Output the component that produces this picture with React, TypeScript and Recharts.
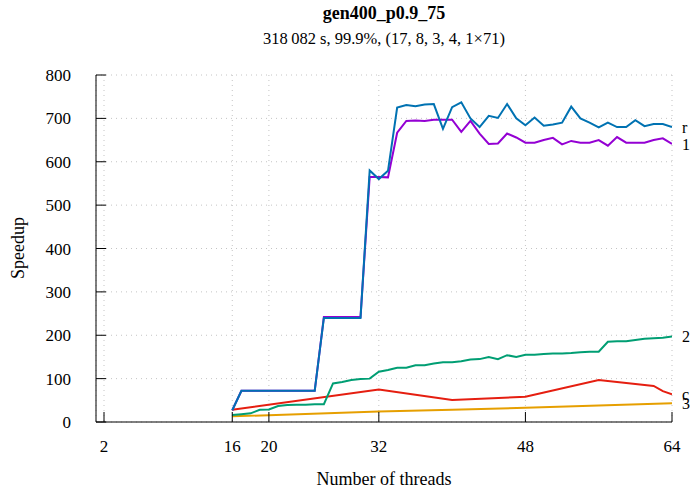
import React from 'react';
import { LineChart, Line, XAxis, YAxis, CartesianGrid } from 'recharts';

// thread counts measured for the dense series
const threads = [
  16, 17, 18, 19, 20, 21, 22, 23, 24, 25, 26, 27, 28, 29, 30, 31, 32,
  33, 34, 35, 36, 37, 38, 39, 40, 41, 42, 43, 44, 45, 46, 47, 48,
  49, 50, 51, 52, 53, 54, 55, 56, 57, 58, 59, 60, 61, 62, 63, 64,
];

const speedupR = [
  27, 72, 72, 72, 72, 72, 72, 72, 72, 72, 240, 240, 240, 240, 240, 580, 560,
  579, 725, 731, 728, 732, 733, 676, 726, 737, 700, 680, 706, 701, 733, 700, 684,
  702, 683, 686, 690, 727, 700, 690, 679, 690, 680, 680, 696, 682, 687, 687, 680,
];

const speedup1 = [
  27, 72, 72, 72, 72, 72, 72, 72, 72, 72, 242, 242, 242, 242, 242, 565, 565,
  564, 667, 694, 695, 694, 697, 697, 697, 669, 694, 665, 641, 642, 665, 656, 644,
  644, 650, 655, 640, 648, 644, 644, 650, 637, 657, 644, 644, 644, 650, 654, 641,
];

const speedup2 = [
  16, 18, 20, 28, 29, 37, 39, 40, 40, 41, 41, 89, 92, 97, 99, 100, 116,
  120, 125, 125, 131, 131, 135, 138, 138, 140, 144, 145, 150, 145, 154, 150, 155,
  155, 157, 158, 158, 159, 161, 162, 162, 185, 186, 186, 189, 192, 193, 194, 197,
];

const threadsC = [16, 32, 40, 48, 56, 62, 63, 64];
const speedupC = [28, 75, 51, 58, 97, 83, 71, 64];

const threads3 = [16, 32, 40, 48, 56, 64];
const speedup3 = [13, 24, 28, 33, 38, 43];

const xTicks = [2, 16, 20, 32, 48, 64];
const yTicks = [0, 100, 200, 300, 400, 500, 600, 700, 800];

const toRows = (xs: number[], ys: number[]) => xs.map((x, i) => ({ x, v: ys[i] }));

const seriesList = [
  { key: '3', data: toRows(threads3, speedup3), color: '#e69f00' },
  { key: 'c', data: toRows(threadsC, speedupC), color: '#e51e10' },
  { key: '2', data: toRows(threads, speedup2), color: '#009e73' },
  { key: '1', data: toRows(threads, speedup1), color: '#9400d3' },
  { key: 'r', data: toRows(threads, speedupR), color: '#0072b2' },
];

const font = '"Liberation Serif", "DejaVu Serif", serif';

const endLabel = (text: string, last: number) => (props: any) => {
  if (props.index !== last) return null;
  return (
    <text
      key={`end-${text}`}
      x={props.x + 10}
      y={props.y}
      dy="0.35em"
      fontSize={16}
      fontFamily={font}
      fill="#000"
    >
      {text}
    </text>
  );
};

export default function App() {
  return (
    <div style={{ position: 'absolute', left: 0, top: 0, width: 691, height: 488, background: '#fff', fontFamily: font }}>
      <div style={{ position: 'absolute', left: 0, width: 768, top: 3, textAlign: 'center', fontSize: 18, fontWeight: 'bold' }}>
        gen400_p0.9_75
      </div>
      <div style={{ position: 'absolute', left: 0, width: 768, top: 29, textAlign: 'center', fontSize: 16.5 }}>
        318{'\u2009'}082 s, 99.9%, (17, 8, 3, 4, 1×71)
      </div>
      <LineChart
        width={691}
        height={488}
        margin={{ top: 75, right: 19, left: 36, bottom: 36 }}
      >
        <CartesianGrid stroke="#c4c4c4" strokeDasharray="1 4" />
        <XAxis
          type="number"
          dataKey="x"
          domain={[2, 64]}
          ticks={xTicks}
          padding={{ left: 8, right: 0 }}
          height={30}
          tickSize={-10}
          tickMargin={28}
          axisLine={{ stroke: '#000' }}
          tickLine={{ stroke: '#000' }}
          tick={{ fill: '#000', fontSize: 17, fontFamily: font }}
          allowDataOverflow
        />
        <YAxis
          type="number"
          domain={[0, 800]}
          ticks={yTicks}
          width={60}
          tickSize={-10}
          tickMargin={35}
          axisLine={{ stroke: '#000' }}
          tickLine={{ stroke: '#000' }}
          tick={{ fill: '#000', fontSize: 17, fontFamily: font }}
        />
        {seriesList.map((s) => (
          <Line
            key={s.key}
            data={s.data}
            dataKey="v"
            type="linear"
            stroke={s.color}
            strokeWidth={2}
            dot={false}
            isAnimationActive={false}
            label={endLabel(s.key, s.data.length - 1)}
          />
        ))}
      </LineChart>
      <div style={{ position: 'absolute', left: 0, width: 768, top: 469, textAlign: 'center', fontSize: 18 }}>
        Number of threads
      </div>
      <div
        style={{
          position: 'absolute',
          left: 18,
          top: 248,
          fontSize: 18,
          transform: 'translate(-50%, -50%) rotate(-90deg)',
          whiteSpace: 'nowrap',
        }}
      >
        Speedup
      </div>
    </div>
  );
}
